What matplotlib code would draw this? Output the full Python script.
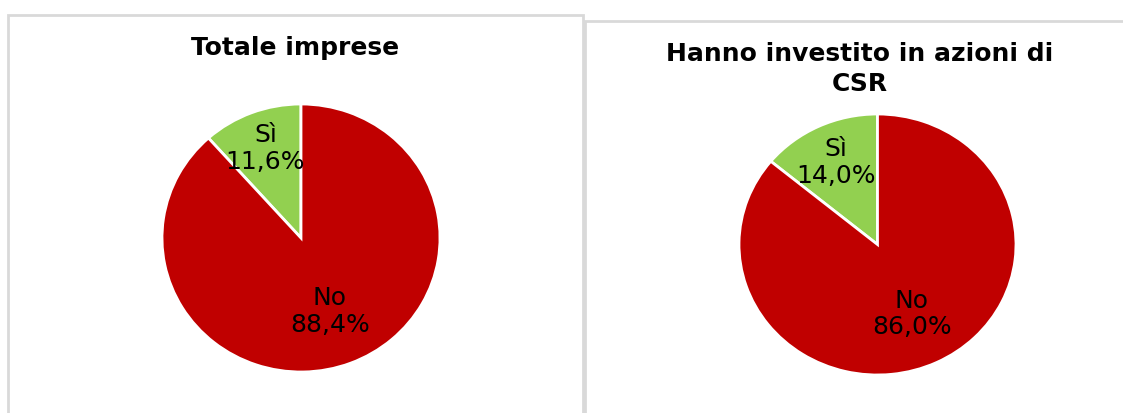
import matplotlib.pyplot as plt
from matplotlib.patches import Rectangle
import numpy as np

labels = ["Sì", "No"]
totale = [11.6, 88.4]
csr = [14.0, 86.0]
titles = ["Totale imprese", "Hanno investito in azioni di\nCSR"]
colors = ["#92D050", "#C00000"]

W, H = 1123, 414
fig = plt.figure(figsize=(W / 100, H / 100), dpi=100)

# panel frames (pixels: x0, y0 top, x1, y1 bottom)
for x0, y0, x1, y1 in [(8, 16, 583, 420), (585, 22, 1130, 420)]:
    fig.add_artist(Rectangle((x0 / W, 1 - y1 / H), (x1 - x0) / W, (y1 - y0) / H,
                             transform=fig.transFigure, facecolor="none",
                             edgecolor="#d9d9d9", linewidth=2, zorder=0))

def draw_pie(cx, cy, rx, ry, values, title, tx, ty, dist):
    ax = fig.add_axes([(cx - rx) / W, 1 - (cy + ry) / H, 2 * rx / W, 2 * ry / H])
    wedges, _ = ax.pie(values, colors=colors, startangle=90, counterclock=True,
                       wedgeprops=dict(edgecolor="white", linewidth=2))
    ax.set_aspect("auto")
    ax.set_xlim(-1, 1)
    ax.set_ylim(-1, 1)
    for w, lab, v, d in zip(wedges, labels, values, dist):
        ang = np.deg2rad((w.theta1 + w.theta2) / 2)
        ax.text(d * np.cos(ang), d * np.sin(ang),
                "%s\n%s%%" % (lab, ("%.1f" % v).replace(".", ",")),
                ha="center", va="center", fontsize=18, linespacing=1.15)
    fig.text(tx / W, 1 - ty / H, title, ha="center", va="center",
             fontsize=18, fontweight="bold", linespacing=1.3)

draw_pie(301, 239, 139, 134, totale, titles[0], 295, 48, [0.72, 0.58])
draw_pie(877.5, 245.5, 138.5, 130.5, csr, titles[1], 860, 69, [0.7, 0.58])

fig.savefig("out.png", dpi=100)
